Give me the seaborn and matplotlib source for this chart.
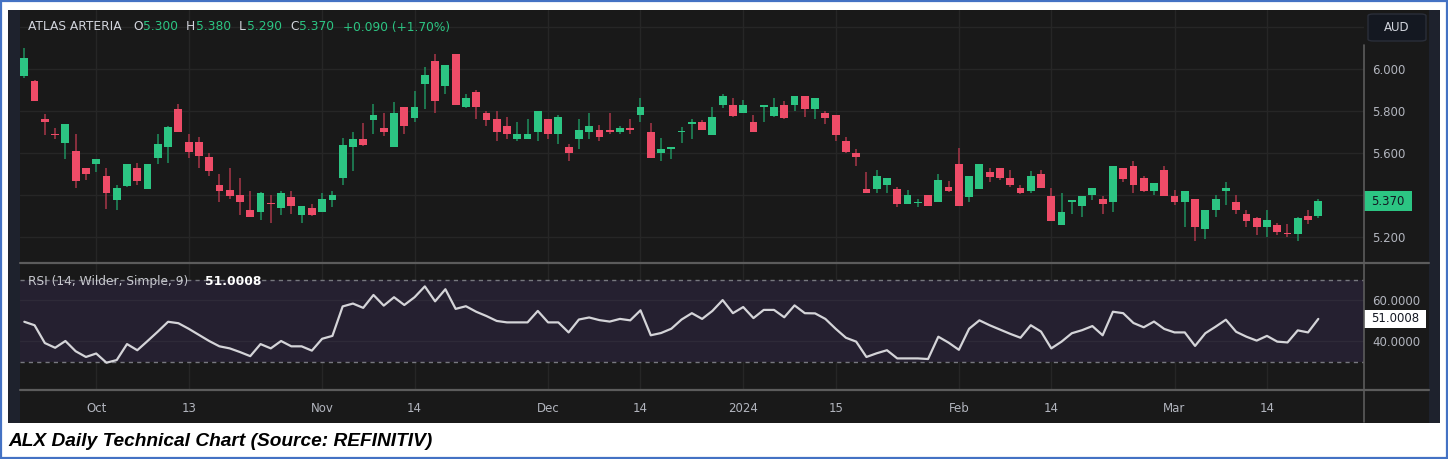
import numpy as np
import pandas as pd
import matplotlib
matplotlib.use('Agg')
import matplotlib.pyplot as plt
import matplotlib.transforms as mtransforms
from matplotlib.patches import Rectangle, FancyBboxPatch
import seaborn as sns

# ---- data ----
holidays = ['2023-12-25', '2023-12-26', '2024-01-01', '2024-01-26']
dates = pd.bdate_range('2023-09-21', '2024-03-21').drop(pd.to_datetime(holidays))

opens = [5.968, 5.943, 5.760, 5.690, 5.649, 5.609, 5.530, 5.548, 5.490, 5.376,
         5.444, 5.530, 5.428, 5.578, 5.627, 5.809, 5.651, 5.651, 5.582, 5.449,
         5.422, 5.398, 5.330, 5.317, 5.364, 5.336, 5.389, 5.306, 5.340, 5.317,
         5.376, 5.479, 5.627, 5.668, 5.757, 5.721, 5.627, 5.819, 5.768, 5.930,
         6.040, 5.919, 6.071, 5.817, 5.889, 5.792, 5.760, 5.728, 5.667, 5.667,
         5.698, 5.760, 5.689, 5.630, 5.667, 5.698, 5.711, 5.711, 5.698, 5.721,
         5.779, 5.700, 5.598, 5.619, 5.700, 5.738, 5.749, 5.687, 5.827, 5.828,
         5.789, 5.749, 5.819, 5.778, 5.828, 5.827, 5.871, 5.808, 5.792, 5.781,
         5.659, 5.598, 5.430, 5.428, 5.446, 5.430, 5.357, 5.360, 5.398, 5.365,
         5.438, 5.549, 5.389, 5.428, 5.508, 5.528, 5.479, 5.432, 5.419, 5.502,
         5.397, 5.256, 5.367, 5.348, 5.398, 5.379, 5.365, 5.529, 5.540, 5.479,
         5.419, 5.519, 5.397, 5.365, 5.379, 5.237, 5.329, 5.419, 5.368, 5.308,
         5.290, 5.246, 5.257, 5.219, 5.214, 5.298, 5.300]
highs = [6.098, 5.948, 5.786, 5.721, 5.740, 5.689, 5.530, 5.571, 5.527, 5.448,
         5.549, 5.551, 5.549, 5.690, 5.728, 5.832, 5.690, 5.678, 5.598, 5.500,
         5.530, 5.481, 5.421, 5.416, 5.400, 5.421, 5.421, 5.349, 5.359, 5.411,
         5.421, 5.670, 5.701, 5.741, 5.832, 5.792, 5.841, 5.819, 5.897, 6.011,
         6.071, 6.019, 6.071, 5.879, 5.900, 5.801, 5.801, 5.773, 5.749, 5.760,
         5.801, 5.760, 5.781, 5.641, 5.760, 5.792, 5.733, 5.792, 5.728, 5.763,
         5.860, 5.741, 5.670, 5.630, 5.722, 5.760, 5.757, 5.819, 5.879, 5.860,
         5.852, 5.781, 5.828, 5.860, 5.849, 5.871, 5.871, 5.860, 5.801, 5.781,
         5.678, 5.619, 5.509, 5.519, 5.479, 5.440, 5.424, 5.379, 5.398, 5.500,
         5.467, 5.625, 5.490, 5.549, 5.528, 5.528, 5.519, 5.448, 5.516, 5.519,
         5.432, 5.411, 5.378, 5.397, 5.432, 5.395, 5.540, 5.529, 5.562, 5.490,
         5.459, 5.540, 5.424, 5.421, 5.379, 5.329, 5.398, 5.460, 5.398, 5.329,
         5.294, 5.329, 5.265, 5.260, 5.294, 5.329, 5.380]
lows = [5.959, 5.848, 5.686, 5.667, 5.571, 5.432, 5.471, 5.508, 5.332, 5.328,
        5.440, 5.448, 5.428, 5.548, 5.551, 5.698, 5.574, 5.527, 5.492, 5.368,
        5.379, 5.305, 5.295, 5.281, 5.265, 5.305, 5.309, 5.265, 5.301, 5.317,
        5.341, 5.448, 5.516, 5.633, 5.690, 5.681, 5.627, 5.690, 5.749, 5.809,
        5.792, 5.879, 5.828, 5.813, 5.760, 5.728, 5.659, 5.668, 5.657, 5.667,
        5.659, 5.668, 5.641, 5.562, 5.619, 5.667, 5.659, 5.690, 5.690, 5.690,
        5.749, 5.578, 5.562, 5.571, 5.649, 5.668, 5.709, 5.687, 5.816, 5.773,
        5.789, 5.698, 5.749, 5.773, 5.760, 5.801, 5.770, 5.763, 5.738, 5.659,
        5.598, 5.540, 5.408, 5.411, 5.411, 5.341, 5.357, 5.341, 5.348, 5.365,
        5.416, 5.348, 5.368, 5.428, 5.460, 5.470, 5.440, 5.403, 5.411, 5.435,
        5.278, 5.256, 5.310, 5.297, 5.376, 5.310, 5.319, 5.460, 5.411, 5.414,
        5.398, 5.397, 5.351, 5.249, 5.181, 5.190, 5.297, 5.351, 5.311, 5.249,
        5.211, 5.202, 5.211, 5.202, 5.179, 5.260, 5.290]
closes = [6.051, 5.848, 5.748, 5.687, 5.740, 5.468, 5.498, 5.571, 5.408, 5.432,
          5.549, 5.467, 5.549, 5.641, 5.722, 5.698, 5.606, 5.586, 5.516, 5.419,
          5.397, 5.365, 5.295, 5.411, 5.359, 5.411, 5.348, 5.349, 5.306, 5.379,
          5.398, 5.640, 5.668, 5.638, 5.781, 5.698, 5.792, 5.728, 5.819, 5.970,
          5.848, 6.019, 5.828, 5.860, 5.817, 5.759, 5.698, 5.689, 5.690, 5.690,
          5.801, 5.689, 5.770, 5.598, 5.711, 5.728, 5.678, 5.698, 5.721, 5.709,
          5.819, 5.578, 5.621, 5.630, 5.703, 5.749, 5.709, 5.770, 5.871, 5.778,
          5.828, 5.698, 5.828, 5.819, 5.765, 5.871, 5.808, 5.860, 5.768, 5.687,
          5.606, 5.579, 5.408, 5.490, 5.479, 5.357, 5.398, 5.368, 5.348, 5.470,
          5.419, 5.348, 5.490, 5.549, 5.487, 5.479, 5.446, 5.408, 5.490, 5.435,
          5.278, 5.319, 5.378, 5.397, 5.432, 5.359, 5.540, 5.478, 5.446, 5.419,
          5.459, 5.397, 5.365, 5.421, 5.246, 5.329, 5.379, 5.432, 5.327, 5.278,
          5.246, 5.279, 5.225, 5.214, 5.290, 5.280, 5.370]
rsi = [49.6, 47.9, 39.2, 36.9, 40.2, 35.2, 32.4, 34.1, 29.6, 30.9,
       38.7, 35.7, 40.2, 44.8, 49.6, 48.9, 46.2, 43.2, 40.2, 37.6,
       36.6, 34.8, 32.8, 38.7, 36.6, 40.2, 37.6, 37.6, 35.5, 41.3,
       42.7, 57.1, 58.5, 56.4, 62.7, 57.5, 61.6, 57.8, 61.6, 66.9,
       59.6, 65.5, 55.9, 57.2, 54.5, 52.4, 50.0, 49.3, 49.3, 49.3,
       54.9, 49.3, 49.3, 44.4, 50.7, 51.7, 50.4, 49.7, 51.0, 50.3,
       55.2, 43.0, 44.1, 46.2, 50.7, 53.8, 51.0, 54.9, 60.2, 53.8,
       56.8, 51.4, 55.4, 55.4, 51.8, 57.6, 53.8, 53.7, 51.0, 46.2,
       41.8, 39.9, 32.4, 34.2, 35.7, 31.7, 31.7, 31.7, 31.4, 42.3,
       39.4, 35.9, 46.2, 50.3, 47.9, 45.8, 43.7, 41.8, 47.9, 44.8,
       36.6, 39.9, 44.0, 45.5, 47.5, 43.0, 54.5, 53.8, 49.0, 46.9,
       49.7, 46.1, 44.4, 44.4, 37.8, 44.0, 47.2, 50.6, 44.7, 42.3,
       40.4, 42.7, 39.9, 39.5, 45.4, 44.4, 51.0008]

tick_dates = ['2023-10-02', '2023-10-13', '2023-11-01', '2023-11-14', '2023-12-01', '2023-12-14',
              '2024-01-02', '2024-01-15', '2024-02-01', '2024-02-14', '2024-03-01', '2024-03-14']
tick_labels = ['Oct', '13', 'Nov', '14', 'Dec', '14', '2024', '15', 'Feb', '14', 'Mar', '14']
price_ticks = [5.2, 5.4, 5.6, 5.8, 6.0]
rsi_ticks = [40, 60]

df = pd.DataFrame({'date': dates, 'open': opens, 'high': highs, 'low': lows,
                   'close': closes, 'rsi': rsi})
df['i'] = np.arange(len(df))
df['up'] = df['close'] >= df['open']

# ---- style ----
BG = '#191919'
NAVY = '#1e222d'
GREEN = '#2cc583'
RED = '#ee4c68'
GREEN_W = '#1f8f5e'
RED_W = '#a83649'
GRID = '#262626'
SEP = '#5c5c5c'
TXT = '#b2b5be'

sns.set_theme(style='dark', rc={'axes.facecolor': BG, 'figure.facecolor': 'white'})
plt.rcParams['font.family'] = ['DejaVu Sans']

W, H = 1448, 459


def fx(px):
    return px / W


def fy(py):
    return 1 - py / H


fig = plt.figure(figsize=(W / 100, H / 100), dpi=100)

# frame + dark chart background
fig.patches.append(Rectangle((fx(1), fy(458)), 1446 / W, 457 / H, transform=fig.transFigure,
                             fill=False, ec='#4472c4', lw=1.6, zorder=-5))
fig.patches.append(Rectangle((fx(8), fy(423)), 1432 / W, 413 / H, transform=fig.transFigure,
                             fc=BG, ec='none', zorder=-4))
fig.patches.append(Rectangle((fx(8), fy(423)), 12 / W, 413 / H, transform=fig.transFigure,
                             fc=NAVY, ec='none', zorder=-3))
fig.patches.append(Rectangle((fx(1429), fy(423)), 11 / W, 413 / H, transform=fig.transFigure,
                             fc=NAVY, ec='none', zorder=-3))

ax = fig.add_axes([fx(20), fy(263), 1344 / W, 253 / H])
ax_r = fig.add_axes([fx(20), fy(390), 1344 / W, 127 / H], sharex=ax)

xmin, xmax = -0.42, 130.45
tick_pos = [df.index[df['date'] == pd.Timestamp(d)][0] for d in tick_dates]

# ---- candles ----
colors = np.where(df['up'], GREEN, RED)
wick_colors = np.where(df['up'], GREEN_W, RED_W)
body_low = df[['open', 'close']].min(axis=1)
body_h = np.maximum((df['close'] - df['open']).abs(), 0.004)
ax.vlines(df['i'], df['low'], df['high'], colors=wick_colors, lw=1.1, zorder=2)
ax.bar(df['i'], body_h, bottom=body_low, width=0.76, color=colors, lw=0, zorder=3)

ax.set_xlim(xmin, xmax)
ax.set_ylim(5.076, 6.281)
for p in price_ticks + [6.2]:
    ax.axhline(p, color=GRID, lw=1, zorder=0)
for t in tick_pos:
    ax.axvline(t, color=GRID, lw=1, zorder=0)
    ax_r.axvline(t, color=GRID, lw=1, zorder=0)

ax.yaxis.tick_right()
ax.set_yticks(price_ticks, [f'{p:.3f}' for p in price_ticks])
ax.tick_params(axis='y', length=0, pad=6.2, labelsize=8.5, labelcolor=TXT)
ax.tick_params(axis='x', length=0, labelbottom=False)
for s in ax.spines.values():
    s.set_visible(False)
ax.grid(False)

# ---- RSI ----
ax_r.set_ylim(16.26, 78.32)
ax_r.axhspan(30, 70, color='#252030', zorder=0, lw=0)
for v in rsi_ticks:
    ax_r.axhline(v, color='#2e2a38', lw=1, zorder=0.5)
for v in (30, 70):
    ax_r.axhline(v, color='#77787f', lw=1, ls=(0, (3, 3)), zorder=1)
sns.lineplot(data=df, x='i', y='rsi', ax=ax_r, color='#d4d4d8', lw=1.6, zorder=3)
ax_r.set_xlabel('')
ax_r.set_ylabel('')
ax_r.yaxis.tick_right()
ax_r.set_yticks(rsi_ticks, [f'{v:.4f}' for v in rsi_ticks])
ax_r.tick_params(axis='y', length=0, pad=6.2, labelsize=8.5, labelcolor=TXT)
ax_r.set_xticks(tick_pos, tick_labels)
ax_r.tick_params(axis='x', length=0, pad=9, labelsize=8.5, labelcolor=TXT)
for s in ax_r.spines.values():
    s.set_visible(False)
ax_r.grid(False)
ax_r.set_xlim(xmin, xmax)

# separators
for py in (263, 390):
    fig.add_artist(plt.Line2D([fx(20), fx(1429)], [fy(py), fy(py)], color=SEP, lw=1.6))
fig.add_artist(plt.Line2D([fx(1364), fx(1364)], [fy(45), fy(422)], color=SEP, lw=1.2))

# last price / RSI value boxes
bt = mtransforms.blended_transform_factory(fig.transFigure, ax.transData)
last = df['close'].iloc[-1]
ax.add_patch(Rectangle((fx(1364), last - 10 / 210), 48 / W, 20 / 210, transform=bt,
                       fc=GREEN, ec='none', clip_on=False, zorder=10))
ax.text(fx(1388), last, f'{last:.3f}', transform=bt, ha='center', va='center',
        fontsize=8.5, color='#131722', clip_on=False, zorder=11)
bt_r = mtransforms.blended_transform_factory(fig.transFigure, ax_r.transData)
rlast = df['rsi'].iloc[-1]
ax_r.add_patch(Rectangle((fx(1364), rlast - 10 / 2.367), 62 / W, 20 / 2.367, transform=bt_r,
                         fc='white', ec='none', clip_on=False, zorder=10))
ax_r.text(fx(1395), rlast, f'{rlast:.4f}', transform=bt_r, ha='center', va='center',
          fontsize=8.5, color='#131722', clip_on=False, zorder=11)

# AUD box
fig.patches.append(FancyBboxPatch((fx(1368), fy(41)), 58 / W, 27 / H, transform=fig.transFigure,
                                  boxstyle='round,pad=0,rounding_size=0.004',
                                  fc='#141821', ec='#2a2e39', lw=1, zorder=5))
fig.text(fx(1397), fy(27.5), 'AUD', ha='center', va='center', fontsize=8.5,
         color='#d1d4dc', zorder=6)

# header
o, h, l, c = opens[-1], highs[-1], lows[-1], closes[-1]
chg = c - closes[-2]
pct = chg / closes[-2] * 100
header = [(28, 'ATLAS ARTERIA', '#d1d4dc'),
          (133, 'O', '#d1d4dc'), (143, f'{o:.3f}', GREEN),
          (186, 'H', '#d1d4dc'), (196, f'{h:.3f}', GREEN),
          (239, 'L', '#d1d4dc'), (247, f'{l:.3f}', GREEN),
          (290, 'C', '#d1d4dc'), (299, f'{c:.3f}', GREEN),
          (343, f'{chg:+.3f} ({pct:+.2f}%)', GREEN)]
for px, s, col in header:
    fig.text(fx(px), fy(27), s, ha='left', va='center', fontsize=8.8, color=col)

fig.text(fx(28), fy(281.5), 'RSI (14, Wilder, Simple, 9)', ha='left', va='center',
         fontsize=8.8, color='#c8c9cf')
fig.text(fx(205), fy(281.5), f'{rlast:.4f}', ha='left', va='center',
         fontsize=8.8, color='white', fontweight='bold')

# caption
fig.text(fx(8), fy(441), 'ALX Daily Technical Chart (Source: REFINITIV)', ha='left', va='center',
         fontsize=13.8, color='black', fontweight='bold', fontstyle='italic',
         family=['Liberation Sans', 'DejaVu Sans'])

fig.savefig('out.png', dpi=100)
